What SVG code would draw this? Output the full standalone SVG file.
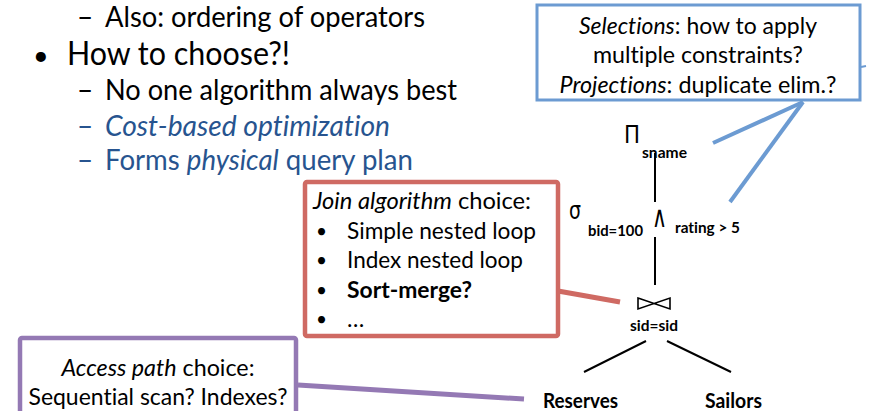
<svg xmlns="http://www.w3.org/2000/svg" width="869" height="411" viewBox="0 0 869 411">
<defs>
<style>
text { font-family: Lato, "Open Sans", "Liberation Sans", sans-serif; fill: #000; font-variant-ligatures: none; }
.slide { font-size: 28px; }
.big { font-size: 32px; }
.blue { fill: #27548F; }
.box { font-size: 23px; }
.dot { font-size: 19px; }
.lbl { font-size: 16px; font-weight: bold; }
.rel { font-size: 20px; font-weight: bold; }
.sym { font-family: "DejaVu Sans", "Liberation Sans", sans-serif; }
.it { font-style: italic; }
.b { font-weight: bold; }
.tree { stroke: #000; stroke-width: 2; fill: none; }
</style>
</defs>
<rect width="869" height="411" fill="#fff"/>

<g id="slide-text">
<text class="slide" x="77" y="27">–</text>
<text class="slide" x="105" y="27" textLength="320" lengthAdjust="spacingAndGlyphs">Also: ordering of operators</text>
<text x="33" y="65" style="font-size:27px">•</text>
<text class="big" x="67" y="65" textLength="223" lengthAdjust="spacingAndGlyphs">How to choose?!</text>
<text class="slide" x="77" y="100">–</text>
<text class="slide" x="105" y="100" textLength="352" lengthAdjust="spacingAndGlyphs">No one algorithm always best</text>
<text class="slide blue" x="77" y="136">–</text>
<text class="slide blue it" x="105" y="136" textLength="285" lengthAdjust="spacingAndGlyphs">Cost-based optimization</text>
<text class="slide blue" x="77" y="170">–</text>
<text class="slide blue" x="105" y="170" textLength="308" lengthAdjust="spacingAndGlyphs">Forms <tspan class="it">physical</tspan> query plan</text>
</g>

<g id="connectors">
<line x1="803" y1="102" x2="713" y2="143" stroke="#6C9BD2" stroke-width="4"/>
<line x1="803" y1="102" x2="730" y2="202" stroke="#6C9BD2" stroke-width="4"/>
<line x1="861" y1="67" x2="866" y2="66" stroke="#6C9BD2" stroke-width="2"/>
<line x1="558" y1="291" x2="620" y2="302" stroke="#CF6A63" stroke-width="5"/>
<line x1="298" y1="385" x2="524" y2="399" stroke="#9479B4" stroke-width="5"/>
<line class="tree" x1="655" y1="153" x2="655" y2="202"/>
<line class="tree" x1="655" y1="237" x2="655" y2="285"/>
<line class="tree" x1="646" y1="341" x2="584" y2="372"/>
<line class="tree" x1="667" y1="341" x2="731" y2="372"/>
</g>

<g id="box-selections">
<rect x="537" y="5" width="323" height="95" fill="#fff" stroke="#6C9BD2" stroke-width="3"/>
<text class="box" x="698" y="34" text-anchor="middle" textLength="238" lengthAdjust="spacingAndGlyphs"><tspan class="it">Selections</tspan>: how to apply</text>
<text class="box" x="698" y="63" text-anchor="middle" textLength="210" lengthAdjust="spacingAndGlyphs">multiple constraints?</text>
<text class="box" x="698" y="93" text-anchor="middle" textLength="277" lengthAdjust="spacingAndGlyphs"><tspan class="it">Projections</tspan>: duplicate elim.?</text>
</g>

<g id="box-join">
<rect x="305" y="182" width="253" height="154" rx="2" fill="#fff" stroke="#CF6A63" stroke-width="4.5"/>
<text class="box" x="313" y="209" textLength="218" lengthAdjust="spacingAndGlyphs"><tspan class="it">Join algorithm</tspan> choice:</text>
<text class="dot" x="316" y="238">•</text>
<text class="box" x="347" y="239" textLength="189" lengthAdjust="spacingAndGlyphs">Simple nested loop</text>
<text class="dot" x="316" y="267">•</text>
<text class="box" x="347" y="268" textLength="176" lengthAdjust="spacingAndGlyphs">Index nested loop</text>
<text class="dot" x="316" y="297">•</text>
<text class="box b" x="347" y="298" textLength="125" lengthAdjust="spacingAndGlyphs">Sort-merge?</text>
<text class="dot" x="316" y="326">•</text>
<text class="box" x="347" y="327">…</text>
</g>

<g id="box-access">
<rect x="20" y="338" width="276" height="90" rx="2" fill="#fff" stroke="#9479B4" stroke-width="4.5"/>
<text class="box" x="158" y="376" text-anchor="middle" textLength="193" lengthAdjust="spacingAndGlyphs"><tspan class="it">Access path</tspan> choice:</text>
<text class="box" x="158" y="405" text-anchor="middle" textLength="259" lengthAdjust="spacingAndGlyphs">Sequential scan? Indexes?</text>
</g>

<g id="node-projection">
<text class="sym" x="624" y="143" style="font-size:24px" textLength="16" lengthAdjust="spacingAndGlyphs">Π</text>
<text class="lbl" x="642" y="158" textLength="45" lengthAdjust="spacingAndGlyphs">sname</text>
</g>

<g id="node-selection">
<text class="sym" x="569" y="219" style="font-size:25px" textLength="12" lengthAdjust="spacingAndGlyphs">σ</text>
<text class="lbl" x="588" y="236" textLength="55" lengthAdjust="spacingAndGlyphs">bid=100</text>
<text class="sym" x="652" y="227" style="font-size:30px" textLength="15" lengthAdjust="spacingAndGlyphs">∧</text>
<text class="lbl" x="675" y="233" textLength="65" lengthAdjust="spacingAndGlyphs">rating &gt; 5</text>
</g>

<g id="node-join">
<path d="M638,298 L670,309 L670,298 L638,309 Z" fill="none" stroke="#000" stroke-width="1.6"/>
<text class="lbl" x="630" y="331" textLength="48" lengthAdjust="spacingAndGlyphs">sid=sid</text>
</g>

<g id="node-reserves">
<text class="rel" x="543" y="408" textLength="75" lengthAdjust="spacingAndGlyphs">Reserves</text>
</g>

<g id="node-sailors">
<text class="rel" x="705" y="408" textLength="57" lengthAdjust="spacingAndGlyphs">Sailors</text>
</g>
</svg>
